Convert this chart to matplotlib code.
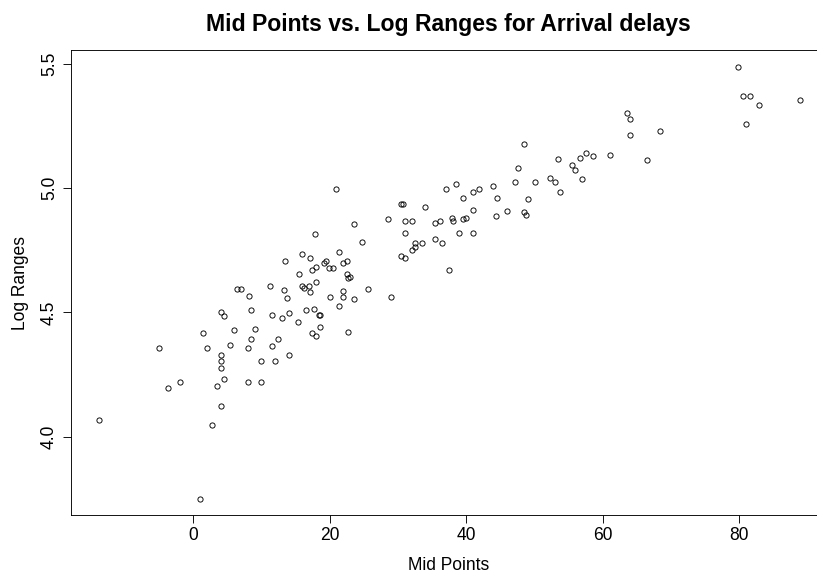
import numpy as np
import matplotlib.pyplot as plt

plt.rcParams['font.family'] = ['Liberation Sans', 'DejaVu Sans']

# mid points of arrival delay groups and log of their ranges
mid_points = [
    -13.8, -5.0, -3.75, -2.0, 0.93, 1.5, 2.0, 2.69, 3.47, 4.0,
    4.0, 4.0, 4.0, 4.5, 4.1, 4.5, 5.43, 5.96, 6.45, 7.0,
    8.16, 8.5, 9.1, 8.5, 8.0, 8.0, 9.96, 9.96, 11.19, 11.58,
    11.48, 12.02, 12.46, 13.0, 13.48, 13.29, 13.77, 14.02, 14.02, 15.38,
    15.53, 15.97, 15.93, 16.27, 17.05, 17.0, 17.05, 17.44, 18.02, 17.78,
    18.02, 16.47, 17.64, 18.5, 18.6, 18.52, 17.44, 17.93, 19.44, 19.15,
    19.84, 20.47, 21.39, 21.93, 22.48, 22.48, 22.62, 22.96, 19.98, 21.98,
    21.89, 21.35, 23.5, 22.71, 23.59, 24.76, 25.55, 20.86, 28.97, 28.48,
    30.48, 30.73, 34.0, 31.0, 32.0, 30.97, 30.48, 30.97, 32.0, 32.48,
    32.48, 33.5, 35.46, 36.15, 35.46, 36.49, 37.51, 36.98, 38.49, 39.52,
    40.98, 41.9, 37.95, 38.0, 39.52, 40.0, 38.97, 40.98, 40.98, 43.96,
    44.45, 44.35, 45.92, 47.14, 47.53, 48.5, 48.5, 48.75, 48.99, 50.02,
    52.27, 53.0, 53.39, 53.73, 55.49, 55.97, 56.7, 57.49, 56.99, 58.6,
    61.0, 63.55, 64.03, 63.99, 66.48, 68.43, 79.85, 80.54, 81.57, 82.89,
    80.98, 88.94,
]
log_ranges = [
    4.066, 4.355, 4.196, 4.219, 3.751, 4.418, 4.355, 4.048, 4.203, 4.33,
    4.303, 4.275, 4.125, 4.233, 4.501, 4.487, 4.367, 4.429, 4.594, 4.594,
    4.567, 4.509, 4.432, 4.393, 4.355, 4.219, 4.303, 4.219, 4.607, 4.489,
    4.363, 4.303, 4.393, 4.476, 4.708, 4.59, 4.558, 4.499, 4.329, 4.461,
    4.653, 4.735, 4.606, 4.599, 4.718, 4.606, 4.583, 4.67, 4.681, 4.815,
    4.623, 4.509, 4.512, 4.488, 4.488, 4.441, 4.417, 4.404, 4.708, 4.697,
    4.677, 4.677, 4.741, 4.70, 4.708, 4.654, 4.638, 4.643, 4.563, 4.585,
    4.562, 4.524, 4.552, 4.422, 4.856, 4.783, 4.594, 4.995, 4.563, 4.874,
    4.934, 4.936, 4.925, 4.867, 4.867, 4.819, 4.727, 4.717, 4.752, 4.762,
    4.779, 4.778, 4.859, 4.869, 4.795, 4.779, 4.672, 4.996, 5.016, 4.961,
    4.983, 4.996, 4.881, 4.867, 4.874, 4.881, 4.819, 4.912, 4.819, 5.009,
    4.959, 4.887, 4.909, 5.024, 5.080, 5.176, 4.904, 4.893, 4.956, 5.023,
    5.04, 5.023, 5.117, 4.983, 5.092, 5.074, 5.121, 5.141, 5.036, 5.13,
    5.134, 5.303, 5.277, 5.213, 5.111, 5.229, 5.487, 5.37, 5.371, 5.335,
    5.257, 5.353,
]
x_ticks = [0, 20, 40, 60, 80]
y_ticks = [4.0, 4.5, 5.0, 5.5]

W, H = 817, 574
fig = plt.figure(figsize=(W/72, H/72), dpi=72)
# plot box, right side runs past the picture edge like in the original
ax = fig.add_axes([71/W, (H-515.3)/H, (826.7-71)/W, (515.3-50)/H])

ax.plot(mid_points, log_ranges, 'o', ms=5.2, mfc='none', mec='black', mew=0.9)

ax.set_xlim(-17.9, 92.8)
ax.set_ylim(3.684, 5.555)
ax.set_xticks(x_ticks)
ax.set_xticklabels([str(t) for t in x_ticks])
ax.set_yticks(y_ticks)
ax.set_yticklabels(['%.1f' % t for t in y_ticks], rotation=90, va='center')
ax.tick_params(length=8, width=0.9, labelsize=17.5, color='black')
ax.tick_params(axis='x', pad=4)
ax.tick_params(axis='y', pad=5)
for s in ax.spines.values():
    s.set_linewidth(0.9)
    s.set_color('black')

fig.text(448.8/W, 1-31/H, 'Mid Points vs. Log Ranges for Arrival delays',
         ha='center', va='baseline', fontsize=23, fontweight='bold')
fig.text(448.8/W, 4/H, 'Mid Points', ha='center', va='baseline', fontsize=17.5)
fig.text(25/W, 1-282.6/H, 'Log Ranges', ha='center', va='baseline',
         rotation=90, rotation_mode='anchor', fontsize=17.5)

fig.savefig('out.png', dpi=72)
